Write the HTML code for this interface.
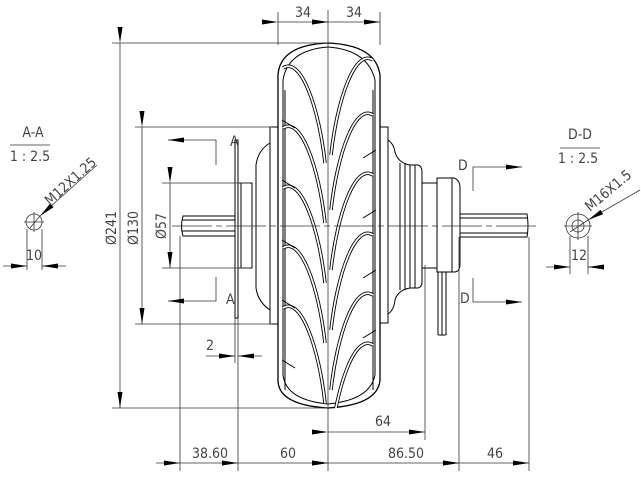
<!DOCTYPE html>
<html><head><meta charset="utf-8"><style>
html,body{margin:0;padding:0;background:#fff;}
svg{display:block;}
text{font-family:"DejaVu Sans Condensed","Liberation Sans",sans-serif;fill:#444;font-size:14px;}
</style></head><body>
<svg width="641" height="488" viewBox="0 0 641 488" xmlns="http://www.w3.org/2000/svg">
<defs>
<marker id="ab" viewBox="0 0 16 5" refX="16" refY="2.5" markerWidth="16" markerHeight="5" markerUnits="userSpaceOnUse" orient="auto"><path d="M0,0 L16,2.5 L0,5 z" fill="#000"/></marker>
<clipPath id="tc"><path d="M278,408 L278,75 Q280,45 328,43 Q376,45 380,75 L380,408 Z"/></clipPath>
<g id="arcL"><path d="M0,0 C18,-12 36,40 42,95" fill="none" stroke="#000" stroke-width="3.5"/><path d="M0,0 C18,-12 36,40 42,95" fill="none" stroke="#fff" stroke-width="1.7"/></g>
<g id="arcR"><path d="M0,0 C-18,-12 -36,40 -42,95" fill="none" stroke="#000" stroke-width="3.5"/><path d="M0,0 C-18,-12 -36,40 -42,95" fill="none" stroke="#fff" stroke-width="1.7"/></g>
</defs>
<g stroke="#000" fill="none" stroke-width="1">
<path d="M278,75 Q280,45 328,43 Q376,45 380,75 L380,380 Q378,405 328,408 Q278,405 278,380 Z" stroke-width="1.3"/>
<path d="M283,80 Q288,50 328,47 Q368,50 375,80 L375,375 Q370,400 328,404 Q286,400 283,375 Z"/>
<line x1="285" y1="90" x2="285" y2="390"/><line x1="373" y1="90" x2="373" y2="390"/>
<g clip-path="url(#tc)">
<use href="#arcL" x="283" y="68"/>
<use href="#arcR" x="373" y="60"/>
<use href="#arcL" x="283" y="128"/>
<use href="#arcR" x="373" y="115"/>
<use href="#arcL" x="283" y="188"/>
<use href="#arcR" x="373" y="175"/>
<use href="#arcL" x="283" y="248"/>
<use href="#arcR" x="373" y="235"/>
<use href="#arcL" x="283" y="308"/>
<use href="#arcR" x="373" y="295"/>
<use href="#arcR" x="373" y="345"/>
<path d="M282,120 L295,128 M282,180 L295,188 M282,240 L295,248 M282,300 L295,308 M282,360 L295,368"/>
<path d="M376,150 L363,158 M376,210 L363,218 M376,270 L363,278 M376,330 L363,338"/>
</g>
<rect x="235" y="140" width="3" height="178"/>
<rect x="238" y="183" width="14" height="85"/><line x1="241" y1="183" x2="241" y2="268"/>
<path d="M270,143 Q258,150 256,165 L256,288 Q258,302 270,310"/>
<rect x="270" y="127" width="8" height="197"/>
<path d="M235,216 L183,216 Q180,226 183,236 L235,236"/><line x1="182" y1="220" x2="235" y2="220"/><line x1="182" y1="231" x2="235" y2="231"/>
<rect x="380" y="127" width="8" height="196"/>
<path d="M388,140 Q394,144 395,152 Q398,163 410,165 L418,165 Q422,166 422,172 L422,282 Q422,287 418,288 L410,288 Q398,290 395,300 Q394,310 388,314"/>
<line x1="400" y1="163" x2="400" y2="290"/><line x1="405" y1="164" x2="405" y2="289"/><line x1="410" y1="165" x2="410" y2="288"/><line x1="415" y1="165" x2="415" y2="288"/>
<rect x="422" y="183" width="15" height="85"/>
<path d="M437,178 L454,178 Q460,180 460,188 L460,264 Q460,272 454,272 L437,272 Z"/><line x1="452" y1="178" x2="452" y2="272"/>
<path d="M460,214 L527,214 Q529,226 527,237 L460,237"/><line x1="460" y1="218" x2="528" y2="218"/><line x1="460" y1="233" x2="528" y2="233"/>
<rect x="438" y="272" width="8" height="63" rx="1"/><line x1="442" y1="272" x2="442" y2="335"/>
</g>
<g stroke="#333" fill="none" stroke-width="0.8">
<line x1="172" y1="226" x2="540" y2="226" stroke-dasharray="40,4,6,4"/>
<line x1="328" y1="10" x2="328" y2="471"/>
<line x1="278" y1="12" x2="278" y2="45"/><line x1="380" y1="12" x2="380" y2="45"/>
<line x1="278" y1="22" x2="328" y2="22" marker-start="url(#ab)" marker-end="url(#ab)"/>
<line x1="328" y1="22" x2="380" y2="22" marker-start="url(#ab)" marker-end="url(#ab)"/>
<line x1="112" y1="43" x2="328" y2="43"/><line x1="112" y1="408" x2="328" y2="408"/>
<line x1="120" y1="43" x2="120" y2="408" marker-start="url(#ab)" marker-end="url(#ab)"/>
<line x1="135" y1="127" x2="272" y2="127"/><line x1="135" y1="324" x2="272" y2="324"/>
<line x1="142" y1="127" x2="142" y2="324" marker-start="url(#ab)" marker-end="url(#ab)"/>
<line x1="162" y1="183" x2="250" y2="183"/><line x1="162" y1="268" x2="250" y2="268"/>
<line x1="170" y1="183" x2="170" y2="268" marker-start="url(#ab)" marker-end="url(#ab)"/>
<line x1="180" y1="236" x2="180" y2="471"/><line x1="238" y1="318" x2="238" y2="471"/>
<line x1="459" y1="237" x2="459" y2="471"/><line x1="529" y1="237" x2="529" y2="471"/>
<line x1="425" y1="265" x2="425" y2="440"/>
<line x1="156" y1="463" x2="180" y2="463" marker-end="url(#ab)"/>
<line x1="180" y1="463" x2="238" y2="463"/>
<line x1="238" y1="463" x2="328" y2="463" marker-start="url(#ab)" marker-end="url(#ab)"/>
<line x1="328" y1="463" x2="459" y2="463" marker-start="url(#ab)" marker-end="url(#ab)"/>
<line x1="459" y1="463" x2="529" y2="463" marker-start="url(#ab)" marker-end="url(#ab)"/>
<line x1="328" y1="432" x2="425" y2="432" marker-start="url(#ab)" marker-end="url(#ab)"/>
<line x1="235" y1="318" x2="235" y2="363"/>
<line x1="206" y1="356" x2="235" y2="356" marker-end="url(#ab)"/>
<line x1="262" y1="356" x2="238" y2="356" marker-end="url(#ab)"/>
<polyline points="216,165 216,140 195,140"/><line x1="195" y1="140" x2="168" y2="140" marker-end="url(#ab)"/>
<polyline points="216,277 216,301 195,301"/><line x1="195" y1="301" x2="168" y2="301" marker-end="url(#ab)"/>
<polyline points="473,191 473,167 497,167"/><line x1="497" y1="167" x2="522" y2="167" marker-end="url(#ab)"/>
<polyline points="473,278 473,302 497,302"/><line x1="497" y1="302" x2="522" y2="302" marker-end="url(#ab)"/>
<line x1="10" y1="145" x2="50" y2="145"/>
<circle cx="34" cy="222" r="8"/>
<line x1="24" y1="222" x2="44" y2="222"/><line x1="34" y1="212" x2="34" y2="232"/>
<line x1="27" y1="229" x2="27" y2="270"/><line x1="42" y1="229" x2="42" y2="270"/>
<line x1="3" y1="266" x2="27" y2="266" marker-end="url(#ab)"/><line x1="66" y1="266" x2="42" y2="266" marker-end="url(#ab)"/>
<line x1="97" y1="165" x2="40" y2="216" marker-end="url(#ab)"/><line x1="40" y1="216" x2="30" y2="228"/>
<line x1="560" y1="148" x2="600" y2="148"/>
<circle cx="578" cy="226" r="12"/><circle cx="578" cy="226" r="6"/>
<line x1="564" y1="226" x2="592" y2="226"/><line x1="578" y1="212" x2="578" y2="240"/>
<line x1="570" y1="236" x2="570" y2="274"/><line x1="588" y1="236" x2="588" y2="274"/>
<line x1="546" y1="267" x2="570" y2="267" marker-end="url(#ab)"/><line x1="604" y1="267" x2="588" y2="267" marker-end="url(#ab)"/>
<line x1="640" y1="190" x2="588" y2="220" marker-end="url(#ab)"/><line x1="588" y1="220" x2="570" y2="232"/>
</g>
<g>
<text x="303" y="17" text-anchor="middle">34</text>
<text x="354" y="17" text-anchor="middle">34</text>
<text transform="translate(116,228) rotate(-90)" text-anchor="middle" font-size="16">Ø241</text>
<text transform="translate(138,228) rotate(-90)" text-anchor="middle" font-size="16">Ø130</text>
<text transform="translate(166,226) rotate(-90)" text-anchor="middle" font-size="16">Ø57</text>
<text x="210" y="458" text-anchor="middle" font-size="15">38.60</text>
<text x="288" y="458" text-anchor="middle" font-size="15">60</text>
<text x="406" y="458" text-anchor="middle" font-size="15">86.50</text>
<text x="495" y="458" text-anchor="middle" font-size="15">46</text>
<text x="383" y="426" text-anchor="middle" font-size="15">64</text>
<text x="210" y="350" text-anchor="middle" font-size="15">2</text>
<text x="230" y="146" font-size="11">A</text>
<text x="226" y="304" font-size="11">A</text>
<text x="458" y="170" font-size="11">D</text>
<text x="460" y="303" font-size="11">D</text>
<text x="33" y="137" text-anchor="middle" font-size="12">A-A</text>
<text x="30" y="161" text-anchor="middle" font-size="12">1 : 2.5</text>
<text x="34" y="260" text-anchor="middle" font-size="15">10</text>
<text transform="translate(50,206) rotate(-42)" font-size="14">M12X1.25</text>
<text x="580" y="139" text-anchor="middle" font-size="12">D-D</text>
<text x="578" y="163" text-anchor="middle" font-size="12">1 : 2.5</text>
<text x="579" y="260" text-anchor="middle" font-size="15">12</text>
<text transform="translate(590,212) rotate(-40)" font-size="14">M16X1.5</text>
</g>
</svg>
</body></html>
